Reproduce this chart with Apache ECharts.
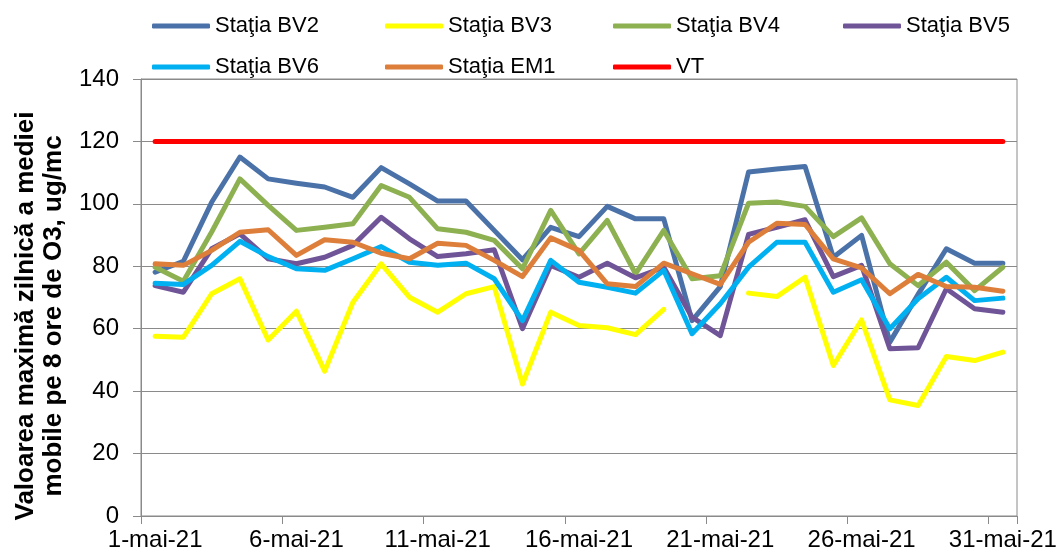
<!DOCTYPE html>
<html>
<head>
<meta charset="utf-8">
<script src="https://cdn.jsdelivr.net/npm/echarts@6/dist/echarts.min.js"></script>
<style>
  html, body { margin: 0; padding: 0; background: #fff; }
  #chart { width: 1061px; height: 556px; }
</style>
</head>
<body>
<div id="chart"></div>
<script>
const days = ['1-mai-21', '2-mai-21', '3-mai-21', '4-mai-21', '5-mai-21', '6-mai-21', '7-mai-21', '8-mai-21',
  '9-mai-21', '10-mai-21', '11-mai-21', '12-mai-21', '13-mai-21', '14-mai-21', '15-mai-21', '16-mai-21',
  '17-mai-21', '18-mai-21', '19-mai-21', '20-mai-21', '21-mai-21', '22-mai-21', '23-mai-21', '24-mai-21',
  '25-mai-21', '26-mai-21', '27-mai-21', '28-mai-21', '29-mai-21', '30-mai-21', '31-mai-21']

const bv2 = [78.1, 81.6, 100.5, 115, 108, 106.6, 105.4, 102.1, 111.6, 106.4, 100.9, 100.9, 91.5, 82.1, 92.5, 89.5,
  99.2, 95.2, 95.2, 62.6, 73.5, 110.2, 111.2, 112, 82.9, 89.9, 55.7, 71, 85.6, 81, 81]
const bv3 = [57.6, 57.3, 71.2, 76, 56.4, 65.6, 46.4, 68.5, 80.8, 70.1, 65.3, 71.2, 73.5, 42.3, 65.3, 61,
  60.3, 58.1, 66.2, null, null, 71.4, 70.3, 76.5, 48.2, 62.8, 37.2, 35.4, 51.1, 49.8, 52.5]
const bv4 = [79.7, 75.2, 91, 108, 99.5, 91.5, 92.5, 93.6, 105.9, 102.1, 92, 90.9, 88.3, 79.2, 97.9, 84,
  94.7, 77.6, 91.5, 76, 77, 100.2, 100.6, 99.2, 89.5, 95.5, 80.8, 73.8, 81.3, 72.2, 79.7]
const bv5 = [73.8, 71.7, 85.6, 90.4, 82.4, 80.8, 82.9, 86.7, 95.7, 88.8, 83.1, 84, 85.3, 60, 80.3, 76.5,
  81, 76.3, 79.7, 63.7, 57.8, 90.2, 92.5, 94.9, 76.7, 80.3, 53.6, 53.9, 72.8, 66.4, 65.3]
const bv6 = [74.6, 74.2, 80.3, 88, 83.1, 79.2, 78.7, 82.4, 86.3, 81.3, 80.3, 81, 76, 62.6, 81.9, 74.9,
  73.3, 71.4, 78.7, 58.4, 68, 79.7, 87.7, 87.7, 71.7, 75.7, 60, 69.6, 76.5, 69, 69.8]
const em1 = [80.8, 80.3, 85.1, 90.9, 91.7, 83.5, 88.5, 87.7, 84.2, 82.4, 87.4, 86.7, 81.9, 76.7, 89.1, 85.1,
  74.4, 73.5, 81, 77.6, 74.2, 87.7, 93.8, 93.4, 82.4, 79.5, 71.2, 77.4, 73.5, 73.3, 72]
const vt = days.map(() => 120)

const yTicks = { min: 0, max: 140, interval: 20 }

const names = ['Staţia BV2', 'Staţia BV3', 'Staţia BV4', 'Staţia BV5', 'Staţia BV6', 'Staţia EM1', 'VT']
const values = [bv2, bv3, bv4, bv5, bv6, em1, vt]
const colors = ['#4A72A8', '#FFFF00', '#8DB050', '#6F5597', '#00B0F0', '#DD7F3A', '#FF0000']
// legend slots: [left, top]
const legendPos = [[152, 15], [385, 15], [613, 15], [843, 15], [152, 56], [385, 56], [613, 56]]

const chart = echarts.init(document.getElementById('chart'))

const option = {
  backgroundColor: '#fff',
  animation: false,
  textStyle: { fontFamily: 'Liberation Sans, Arial, sans-serif', color: '#000' },
  grid: {
    left: 141, right: 44, top: 79, bottom: 40,
    show: true, borderColor: '#8a8a8a', borderWidth: 1
  },
  legend: names.map((n, i) => ({
    data: [n],
    left: legendPos[i][0],
    top: legendPos[i][1],
    padding: 0,
    icon: 'roundRect',
    itemWidth: 58,
    itemHeight: 5,
    textStyle: { fontSize: 22, color: '#000', fontFamily: 'Liberation Sans, Arial, sans-serif' }
  })),
  xAxis: {
    type: 'category',
    data: days,
    boundaryGap: true,
    axisLine: { lineStyle: { color: '#8a8a8a', width: 1 } },
    axisTick: { show: true, interval: 4, length: 8, lineStyle: { color: '#8a8a8a' } },
    axisLabel: { interval: 4, fontSize: 24, color: '#000', margin: 12 },
    splitLine: { show: false }
  },
  yAxis: {
    type: 'value',
    min: yTicks.min,
    max: yTicks.max,
    interval: yTicks.interval,
    axisLine: { show: true, lineStyle: { color: '#8a8a8a', width: 1 } },
    axisTick: { show: true, length: 8, lineStyle: { color: '#8a8a8a' } },
    axisLabel: { fontSize: 24, color: '#000', margin: 22 },
    splitLine: { show: true, lineStyle: { color: '#8a8a8a', width: 1 } }
  },
  graphic: [{
    type: 'text',
    x: 40,
    y: 316,
    rotation: Math.PI / 2,
    style: {
      text: 'Valoarea maximă zilnică a mediei\nmobile pe 8 ore de O3, ug/mc',
      font: 'bold 26px Liberation Sans, Arial, sans-serif',
      fill: '#000',
      align: 'center',
      verticalAlign: 'middle',
      lineHeight: 28
    }
  }],
  series: names.map((n, i) => ({
    name: n,
    type: 'line',
    data: values[i],
    showSymbol: false,
    symbol: 'none',
    connectNulls: false,
    itemStyle: { color: colors[i] },
    lineStyle: { color: colors[i], width: 5, cap: 'round', join: 'round' }
  }))
}

chart.setOption(option)
</script>
</body>
</html>
